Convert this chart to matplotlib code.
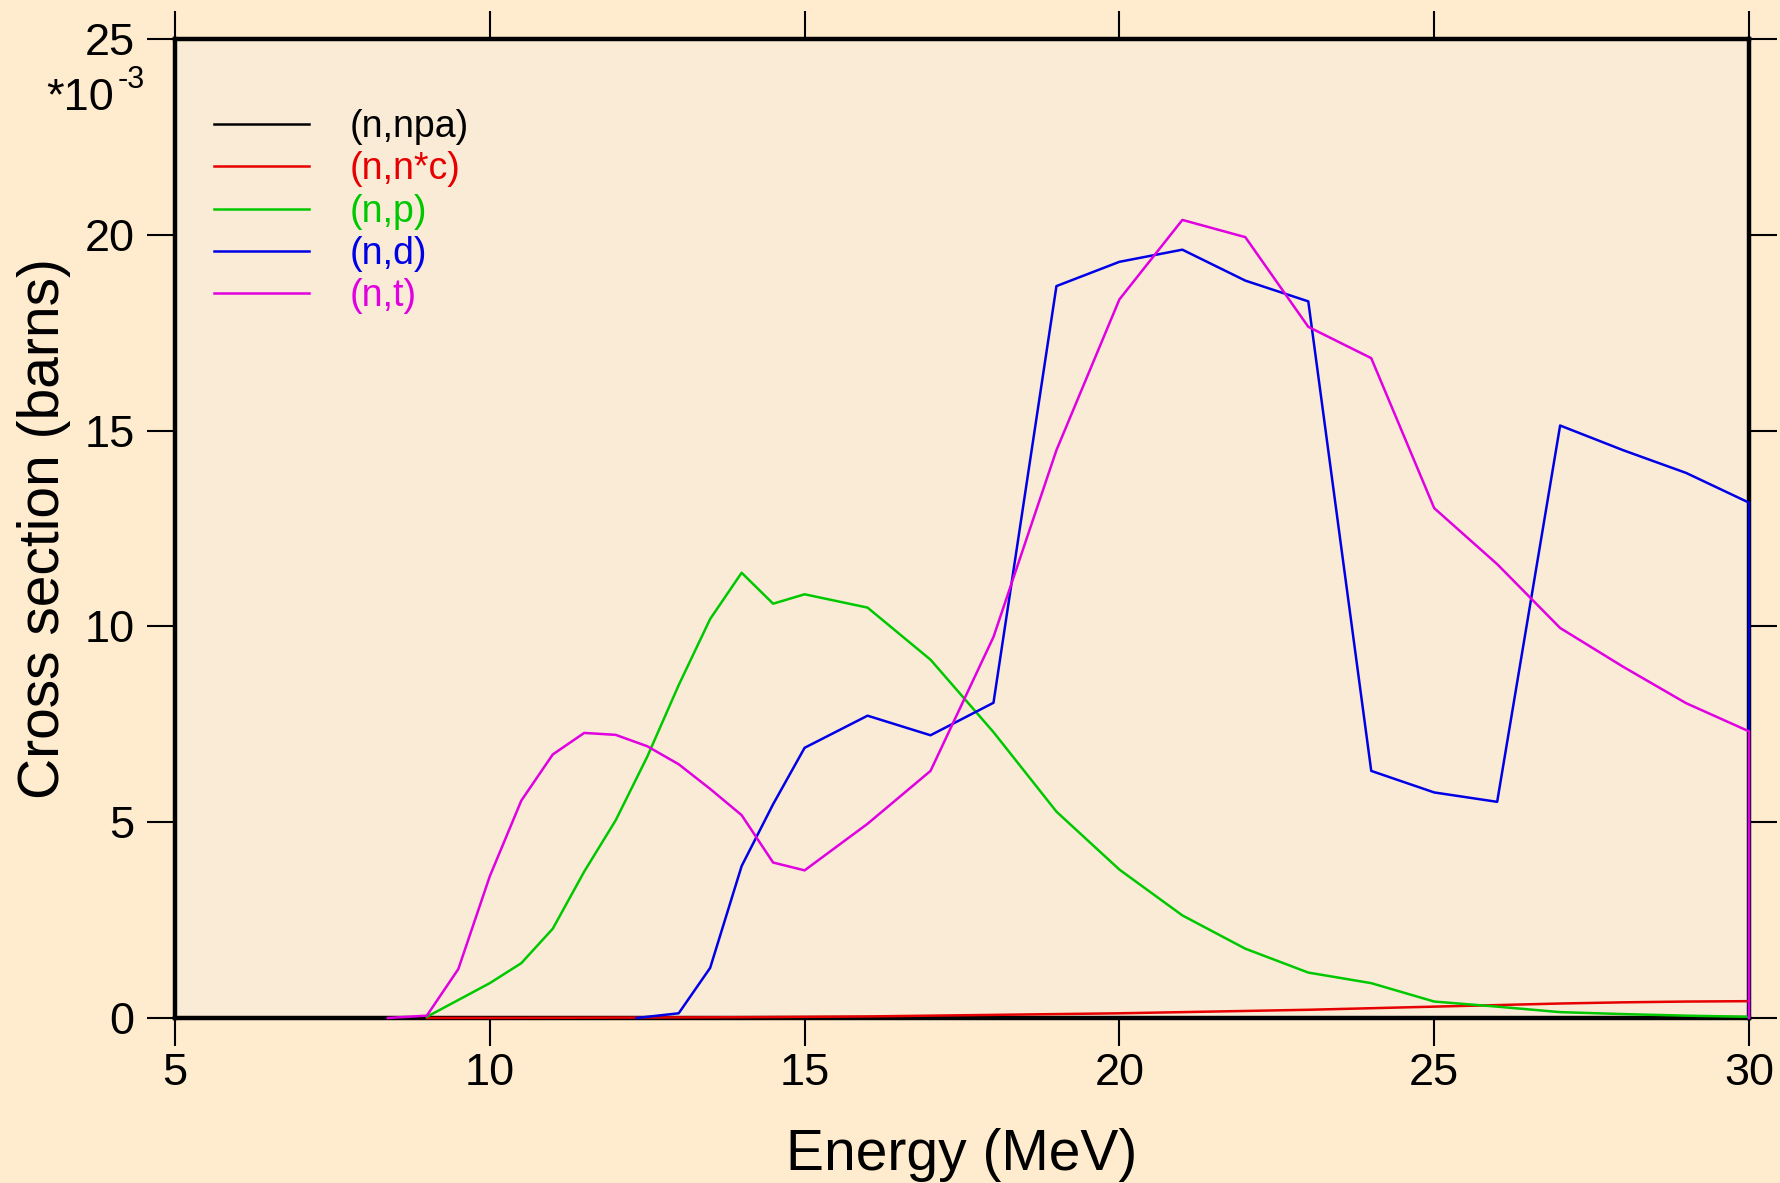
import matplotlib
matplotlib.use("Agg")
import matplotlib.pyplot as plt

plt.rcParams['font.family'] = ['Liberation Sans', 'DejaVu Sans']

# Cross sections in units of 1e-3 barns
E_npa = [9, 10, 12, 14, 16, 18, 20, 22, 24, 26, 28, 30]
xs_npa = [0, 0, 0, 0, 0, 0, 0, 0, 0, 0, 0, 0]

E_nnc = [9, 10, 11, 12, 13, 14, 15, 16, 17, 18, 19, 20, 21, 22, 23, 24, 25, 26, 27, 28, 29, 30]
xs_nnc = [0, 0.002, 0.005, 0.01, 0.015, 0.02, 0.03, 0.04, 0.06, 0.08, 0.10, 0.12,
          0.15, 0.18, 0.21, 0.25, 0.29, 0.33, 0.37, 0.40, 0.42, 0.43]

E_np = [9, 9.5, 10, 10.5, 11, 11.5, 12, 12.5, 13, 13.5, 14, 14.5, 15, 16, 17, 18, 19,
        20, 21, 22, 23, 24, 25, 26, 27, 28, 29, 30]
xs_np = [0.03, 0.46, 0.89, 1.40, 2.28, 3.74, 5.05, 6.67, 8.50, 10.19, 11.37, 10.58, 10.82,
         10.48, 9.15, 7.30, 5.27, 3.79, 2.62, 1.77, 1.16, 0.89, 0.42, 0.29, 0.15, 0.10,
         0.06, 0.03]

E_nd = [12.33, 13, 13.5, 14, 14.5, 15, 16, 17, 18, 19, 20, 21, 22, 23, 24, 25, 26, 27,
        28, 29, 30, 30]
xs_nd = [0, 0.12, 1.28, 3.88, 5.46, 6.90, 7.72, 7.22, 8.05, 18.69, 19.31, 19.62, 18.83,
         18.30, 6.31, 5.76, 5.52, 15.13, 14.50, 13.92, 13.16, 0]

E_nt = [8.38, 9, 9.5, 10, 10.5, 11, 11.5, 12, 12.5, 13, 13.5, 14, 14.5, 15, 16, 17, 18,
        19, 20, 21, 22, 23, 24, 25, 26, 27, 28, 29, 30, 30]
xs_nt = [0, 0.06, 1.25, 3.62, 5.55, 6.73, 7.28, 7.23, 6.94, 6.48, 5.85, 5.18, 3.97, 3.77,
         4.96, 6.31, 9.73, 14.50, 18.35, 20.38, 19.94, 17.65, 16.85, 13.02, 11.59, 9.96,
         8.97, 8.04, 7.32, 0]

labels = ['(n,npa)', '(n,n*c)', '(n,p)', '(n,d)', '(n,t)']
colors = ['#000000', '#e60000', '#00c800', '#0000e6', '#e000e0']
x_ticks = [5, 10, 15, 20, 25, 30]
y_ticks = [0, 5, 10, 15, 20, 25]

W, H = 1781, 1183
fig = plt.figure(figsize=(W / 100, H / 100), dpi=100, facecolor='#FFEBCD')
ax = fig.add_axes([175 / W, 1 - 1018 / H, (1749 - 175) / W, (1018 - 39) / H])
ax.set_facecolor('#FAEBD7')

series = [(E_npa, xs_npa), (E_nnc, xs_nnc), (E_np, xs_np), (E_nd, xs_nd), (E_nt, xs_nt)]
for (e, v), lab, c in zip(series, labels, colors):
    ax.plot(e, v, color=c, lw=1.8, label=lab, zorder=3, clip_on=False)

ax.set_xlim(5, 30)
ax.set_ylim(0, 25)
ax.set_xticks(x_ticks)
ax.set_yticks(y_ticks)
ax.set_xticklabels([str(t) for t in x_ticks])
ax.set_yticklabels([str(t) for t in y_ticks])

for s in ax.spines.values():
    s.set_linewidth(3.2)
ax.tick_params(which='both', direction='out', length=20, width=1.5, colors='black',
               top=True, right=True, labeltop=False, labelright=False, labelsize=32.5)
ax.tick_params(axis='x', pad=5)
ax.tick_params(axis='y', pad=9)

ax.set_xlabel('Energy (MeV)', fontsize=41, va='baseline')
ax.xaxis.set_label_coords(0.5, (1018 - 1170) / (1018 - 39))
ax.set_ylabel('Cross section (barns)', fontsize=41, va='baseline')
ax.yaxis.set_label_coords((59 - 175) / (1749 - 175), 0.5)

# scale factor of the y axis
fig.text(113.5 / W, 1 - 110 / H, '*10', fontsize=32.5, ha='right', va='baseline')
fig.text(118 / W, 1 - 88 / H, '-3', fontsize=22, ha='left', va='baseline')

leg = ax.legend(loc='upper left', bbox_to_anchor=((214 - 175) / 1574, (1018 - 109) / 979),
                frameon=False, fontsize=27, labelcolor='linecolor', handlelength=2.53,
                handletextpad=1.09, labelspacing=0.17, borderpad=0, borderaxespad=0)
for h in leg.get_lines():
    h.set_linewidth(1.8)

fig.savefig('out.png', dpi=100, facecolor=fig.get_facecolor())
